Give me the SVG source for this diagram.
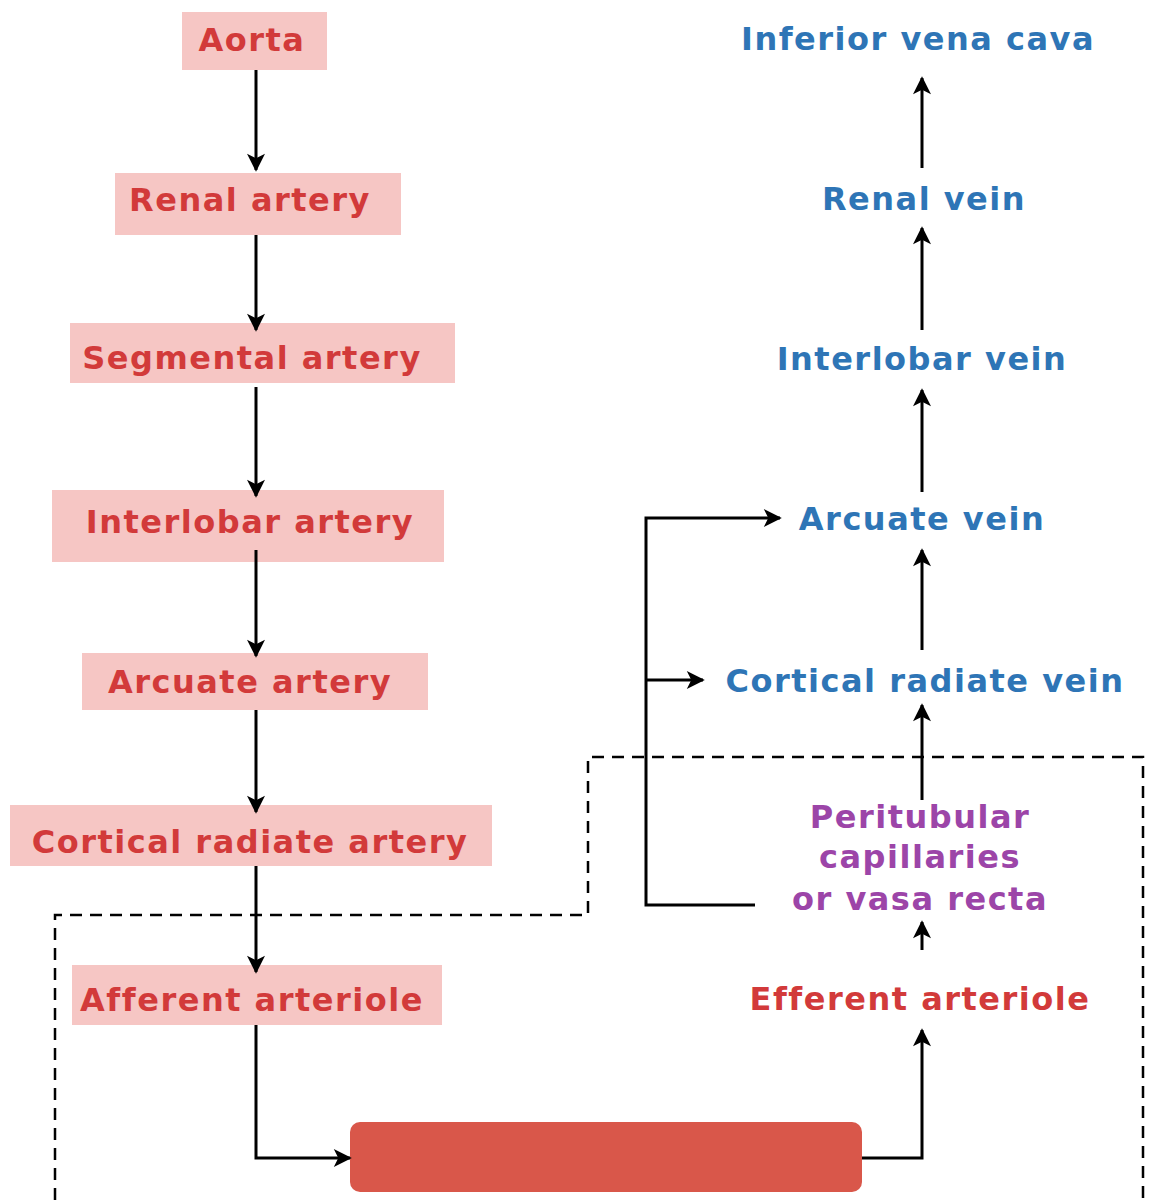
<svg xmlns="http://www.w3.org/2000/svg" width="1159" height="1200" viewBox="0 0 1159 1200">
<defs>
<marker id="ah" viewBox="0 0 10 10" refX="9" refY="5" markerWidth="22" markerHeight="18" markerUnits="userSpaceOnUse" orient="auto"><path d="M0,0 L10,5 L0,10 L2.5,5 z" fill="#000"/></marker>
<style>
text{font-family:"DejaVu Sans","Liberation Sans",sans-serif;font-weight:bold;font-size:32px;letter-spacing:1.5px;text-anchor:middle}
.r{fill:#d23a3a}.b{fill:#2e75b6}.p{fill:#9c45a8}
.box{fill:#f6c6c4}
.c{stroke:#000;stroke-width:3;fill:none}
.a{marker-end:url(#ah)}
</style>
</defs>
<rect x="0" y="0" width="1159" height="1200" fill="#fff"/>
<g id="aorta"><rect class="box" x="182" y="12" width="145" height="58"/><text class="r" x="252" y="51">Aorta</text></g>
<g id="renal-artery"><rect class="box" x="115" y="173" width="286" height="62"/><text class="r" x="250" y="211">Renal artery</text></g>
<g id="segmental-artery"><rect class="box" x="70" y="323" width="385" height="60"/><text class="r" x="252" y="369">Segmental artery</text></g>
<g id="interlobar-artery"><rect class="box" x="52" y="490" width="392" height="72"/><text class="r" x="250" y="533">Interlobar artery</text></g>
<g id="arcuate-artery"><rect class="box" x="82" y="653" width="346" height="57"/><text class="r" x="250" y="693">Arcuate artery</text></g>
<g id="cortical-radiate-artery"><rect class="box" x="10" y="805" width="482" height="61"/><text class="r" x="250" y="853">Cortical radiate artery</text></g>
<g id="afferent-arteriole"><rect class="box" x="72" y="965" width="370" height="60"/><text class="r" x="252" y="1011">Afferent arteriole</text></g>
<g id="ivc"><text class="b" x="918" y="50">Inferior vena cava</text></g>
<g id="renal-vein"><text class="b" x="924" y="210">Renal vein</text></g>
<g id="interlobar-vein"><text class="b" x="922" y="370">Interlobar vein</text></g>
<g id="arcuate-vein"><text class="b" x="922" y="530">Arcuate vein</text></g>
<g id="cortical-radiate-vein"><text class="b" x="925" y="692">Cortical radiate vein</text></g>
<g id="peritubular"><text class="p" x="920" y="828">Peritubular</text><text class="p" x="920" y="868">capillaries</text><text class="p" x="920" y="910">or vasa recta</text></g>
<g id="efferent-arteriole"><text class="r" x="920" y="1010">Efferent arteriole</text></g>
<g id="glomerulus"><rect x="350" y="1122" width="512" height="70" rx="10" fill="#d9574a"/></g>
<g id="connectors">
<line class="c a" x1="256" y1="70" x2="256" y2="170"/>
<line class="c a" x1="256" y1="235" x2="256" y2="330"/>
<line class="c a" x1="256" y1="387" x2="256" y2="496"/>
<line class="c a" x1="256" y1="550" x2="256" y2="656"/>
<line class="c a" x1="256" y1="710" x2="256" y2="812"/>
<line class="c a" x1="256" y1="866" x2="256" y2="972"/>
<polyline class="c a" points="256,1025 256,1158 350,1158"/>
<polyline class="c a" points="862,1158 922,1158 922,1030"/>
<line class="c a" x1="922" y1="950" x2="922" y2="922"/>
<line class="c a" x1="922" y1="800" x2="922" y2="705"/>
<line class="c a" x1="922" y1="650" x2="922" y2="550"/>
<line class="c a" x1="922" y1="492" x2="922" y2="390"/>
<line class="c a" x1="922" y1="330" x2="922" y2="228"/>
<line class="c a" x1="922" y1="168" x2="922" y2="78"/>
<polyline class="c a" points="755,905 646,905 646,518 780,518"/>
<line class="c a" x1="646" y1="680" x2="703" y2="680"/>
<polyline points="55,1200 55,915 588,915 588,757 1143,757 1143,1200" fill="none" stroke="#000" stroke-width="2.5" stroke-dasharray="12,8"/>
</g>
</svg>
